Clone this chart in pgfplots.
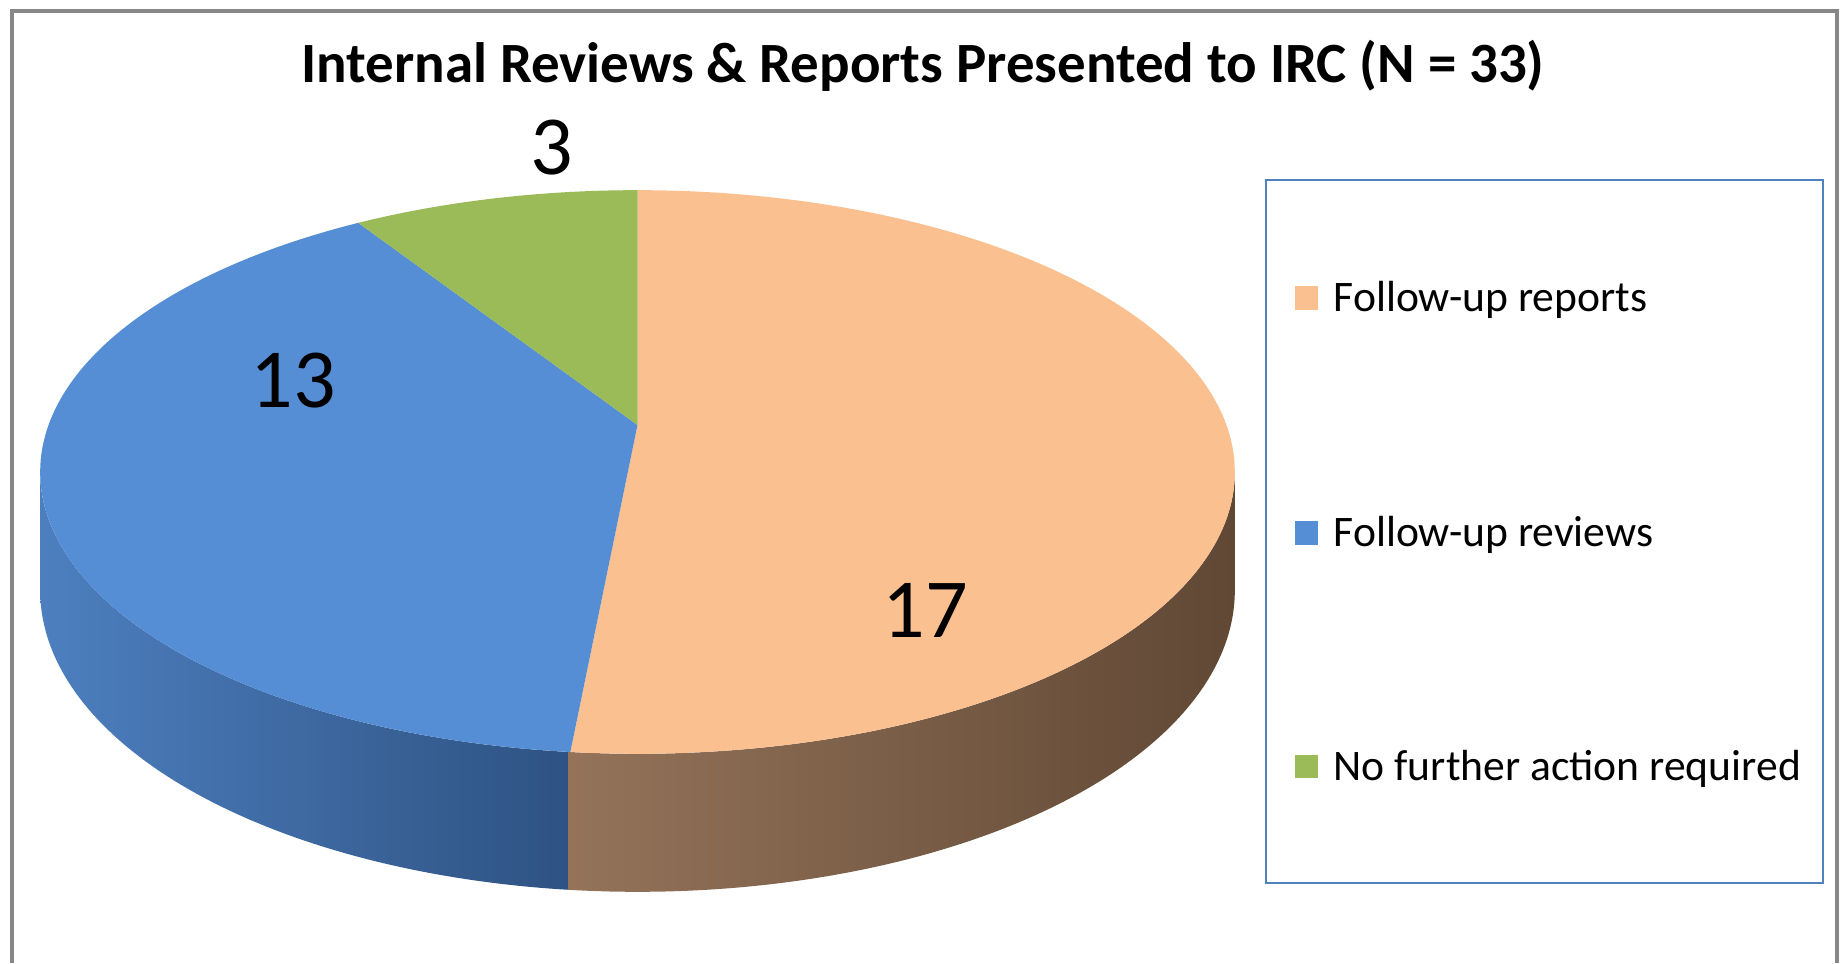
\documentclass[border=0pt]{standalone}
\usepackage{fontspec}
\setmainfont{Carlito}
\usepackage{pgfplots}
\usepackage{pgfplotstable}
\pgfplotsset{compat=1.18}
\definecolor{cOrange}{HTML}{FAC090}
\definecolor{cBlue}{HTML}{558ED5}
\definecolor{cGreen}{HTML}{9BBB59}
\definecolor{frameGray}{HTML}{878787}
\definecolor{legBlue}{HTML}{4F81BD}
\definecolor{oSideL}{RGB}{148,115,89}
\definecolor{oSideM}{RGB}{104,79,59}
\definecolor{oSideR}{RGB}{96,72,53}
\definecolor{bSideL}{RGB}{77,127,191}
\definecolor{bSideM}{RGB}{64,110,168}
\definecolor{bSideR}{RGB}{46,82,130}
\pgfplotstableread{
idx value
0 17
1 13
2 3
}\piedata
\begin{document}
\pgfplotstablegetelem{0}{value}\of\piedata\edef\vA{\pgfplotsretval}%
\pgfplotstablegetelem{1}{value}\of\piedata\edef\vB{\pgfplotsretval}%
\pgfplotstablegetelem{2}{value}\of\piedata\edef\vC{\pgfplotsretval}%
\pgfmathsetmacro{\tot}{\vA+\vB+\vC}%
\pgfmathsetmacro{\aA}{90-360*\vA/\tot}%
\pgfmathsetmacro{\aB}{\aA-360*\vB/\tot}%
\pgfmathsetmacro{\aC}{\aB-360*\vC/\tot}%
\pgfmathsetmacro{\aAx}{\aA-0.15}%
\begin{tikzpicture}
\begin{axis}[hide axis, scale only axis, width=18.41cm, height=9.63cm,
  xmin=0, xmax=1841, ymin=0, ymax=963, y dir=reverse, clip=false,
  declare function={
    px(\t)=637.5+589*cos(\t)/(1+0.1667*sin(\t));
    pyt(\t)=425-274*sin(\t)/(1+0.1667*sin(\t));
    pd(\t)=115/(1+0.1667*sin(\t));
    sth(\t,\a,\b)=(\t<=1)*(\a+\t*(\b-\a))+(\t>1)*(\b-(\t-1)*(\b-\a));
  }]
\coordinate (BBtl) at (axis cs:0,0);
\coordinate (BBbr) at (axis cs:1841,963);
% sides
\addplot[draw=none, left color=bSideL, middle color=bSideM, right color=bSideR, domain=0:2, samples=241, variable=\t]
  ({px(sth(\t,\aA,-170.41))}, {pyt(sth(\t,\aA,-170.41))+(\t>1)*pd(sth(\t,\aA,-170.41))});
\addplot[draw=none, left color=oSideL, middle color=oSideM, right color=oSideR, domain=0:2, samples=241, variable=\t]
  ({px(sth(\t,\aAx,-9.59))}, {pyt(sth(\t,\aAx,-9.59))+(\t>1)*pd(sth(\t,\aAx,-9.59))});
% tops
\addplot[draw=none, fill=cOrange, domain=\aA:90, samples=150, variable=\t]
  ({px(\t)},{pyt(\t)}) -- (axis cs:637.5,425) -- cycle;
\addplot[draw=none, fill=cBlue, domain=\aB:\aA, samples=120, variable=\t]
  ({px(\t)},{pyt(\t)}) -- (axis cs:637.5,425) -- cycle;
\addplot[draw=none, fill=cGreen, domain=\aC:\aB, samples=40, variable=\t]
  ({px(\t)},{pyt(\t)}) -- (axis cs:637.5,425) -- cycle;
% data labels
\node[anchor=base, font=\fontsize{23.9}{28}\selectfont] at (axis cs:552,174) {\vC};
\node[anchor=base, font=\fontsize{23.9}{28}\selectfont] at (axis cs:293.5,407) {\vB};
\node[anchor=base, font=\fontsize{23.9}{28}\selectfont] at (axis cs:925,637.5) {\vA};
% title
\node[anchor=base, font=\bfseries\fontsize{16.2}{19}\selectfont] at (axis cs:923,82) {Internal Reviews \& Reports Presented to IRC (N = 33)};
% frame
\draw[color=frameGray, line width=1pt] (axis cs:12,963) -- (axis cs:12,11) -- (axis cs:1837,11) -- (axis cs:1837,963);
% legend
\draw[color=legBlue, line width=0.8pt] (axis cs:1266,180) rectangle (axis cs:1823,883);
\fill[cOrange] (axis cs:1295,286) rectangle (axis cs:1318,310);
\fill[cBlue] (axis cs:1295,521) rectangle (axis cs:1318,545);
\fill[cGreen] (axis cs:1295,755) rectangle (axis cs:1318,778);
\node[anchor=base west, inner sep=0pt, font=\fontsize{12.4}{15}\selectfont] at (axis cs:1333,311) {Follow-up reports};
\node[anchor=base west, inner sep=0pt, font=\fontsize{12.4}{15}\selectfont] at (axis cs:1333,546) {Follow-up reviews};
\node[anchor=base west, inner sep=0pt, font=\fontsize{12.4}{15}\selectfont] at (axis cs:1333,780) {No further action required};
\end{axis}
\pgfresetboundingbox
\path[use as bounding box] (BBtl) rectangle (BBbr);
\end{tikzpicture}
\end{document}
